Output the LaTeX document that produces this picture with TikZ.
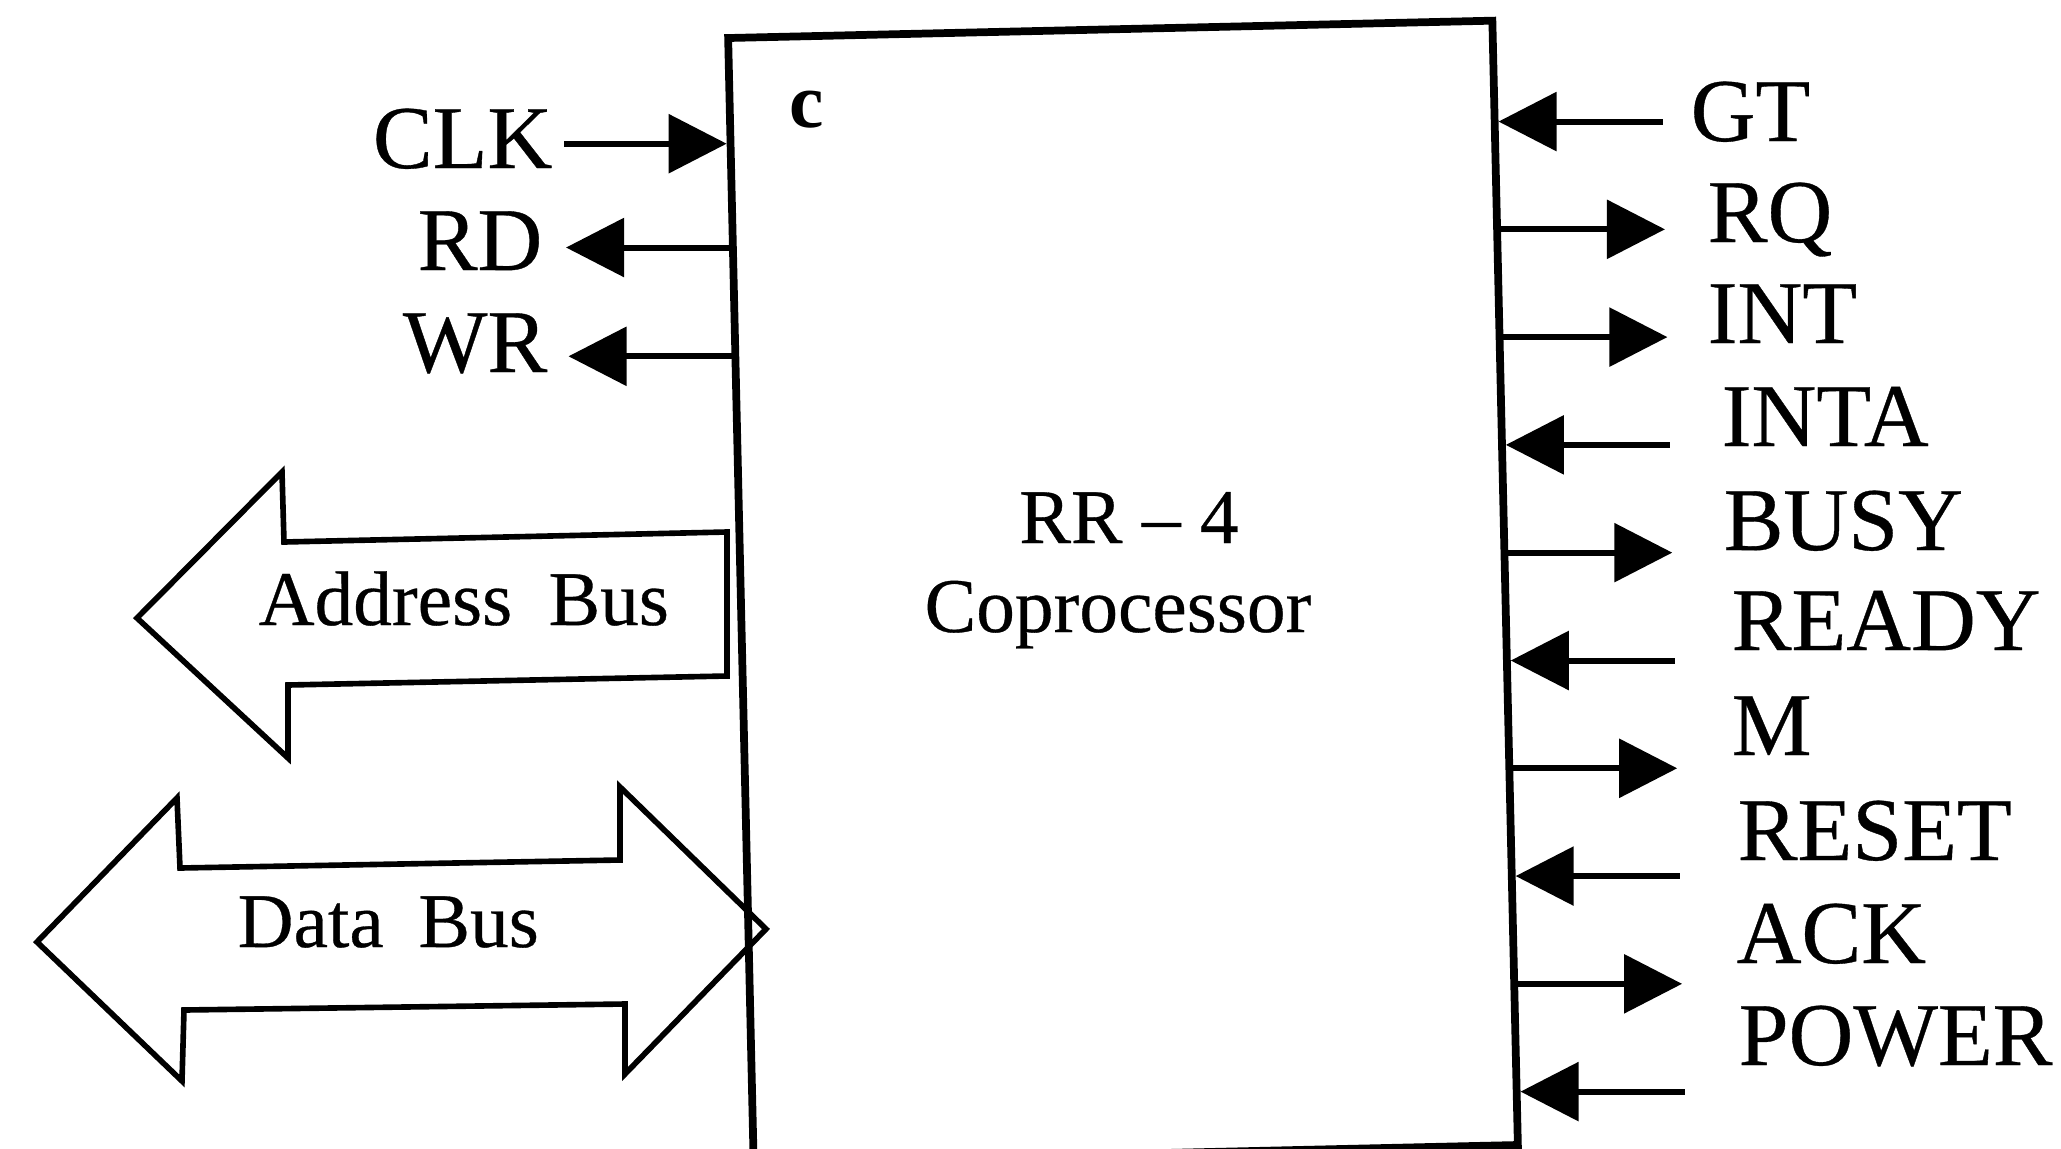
\documentclass[tikz,border=0pt]{standalone}
\usepackage{fontspec}
\setmainfont{Liberation Serif}[UprightFeatures={FakeBold=0.4}]
\usetikzlibrary{arrows.meta,calc}
\begin{document}
\begin{tikzpicture}[x=0.01cm,y=-0.01cm,
  sigout/.style={line width=1.7pt,-{Triangle[length=0.58cm,width=0.58cm]}},
  sigin/.style={line width=1.7pt,{Triangle[length=0.58cm,width=0.58cm]}-},
  lbl/.style={inner sep=0pt,font=\fontsize{25.5}{30}\selectfont},
  ctr/.style={inner sep=0pt,font=\fontsize{22}{26}\selectfont},
  busarrow/.style={line width=1.6pt,line join=miter},
]
\useasboundingbox (0,0) rectangle (2061,1148);
\clip (0,0) rectangle (2061,1148);

% main block
\node[draw,line width=2.2pt,rotate=1.3,minimum width=7.64cm,minimum height=11.24cm,inner sep=0pt] (box) at (1123,591.5) {};
\node[inner sep=0pt,anchor=base west,font=\fontsize{22}{26}\selectfont\bfseries] (cl) at (789,127) {c};
\node[ctr,anchor=base] (name) at (1129,543) {RR – 4};
\node[ctr,anchor=base] (proc) at (1118,632) {Coprocessor};

% left signals
\node[lbl,anchor=base east] (clk) at (553,168) {CLK};
\node[lbl,anchor=base east] (rd) at (543,270) {RD};
\node[lbl,anchor=base east] (wr) at (548,372) {WR};
\draw[sigin]  ($(box.north west)!0.0967!(box.south west)$) -- ++(-163,0);
\draw[sigout] ($(box.north west)!0.1884!(box.south west)$) -- ++(-163,0);
\draw[sigout] ($(box.north west)!0.2845!(box.south west)$) -- ++(-163,0);

% right signals
\node[lbl,anchor=base west] (gt) at (1690,141) {GT};
\node[lbl,anchor=base west] (rq) at (1707,242) {RQ};
\node[lbl,anchor=base west] (int) at (1707,343) {INT};
\node[lbl,anchor=base west] (inta) at (1721,446) {INTA};
\node[lbl,anchor=base west] (busy) at (1723,550) {BUSY};
\node[lbl,anchor=base west] (ready) at (1731,650) {READY};
\node[lbl,anchor=base west] (m) at (1731,755) {M};
\node[lbl,anchor=base west] (reset) at (1737,860) {RESET};
\node[lbl,anchor=base west] (ack) at (1736,963) {ACK};
\node[lbl,anchor=base west] (power) at (1738,1065) {POWER};

\draw[sigin]  ($(box.north east)!0.0926!(box.south east)$) -- ++(164,0);
\draw[sigout] ($(box.north east)!0.1878!(box.south east)$) -- ++(164,0);
\draw[sigout] ($(box.north east)!0.2830!(box.south east)$) -- ++(164,0);
\draw[sigin]  ($(box.north east)!0.3782!(box.south east)$) -- ++(164,0);
\draw[sigout] ($(box.north east)!0.4734!(box.south east)$) -- ++(164,0);
\draw[sigin]  ($(box.north east)!0.5687!(box.south east)$) -- ++(164,0);
\draw[sigout] ($(box.north east)!0.6639!(box.south east)$) -- ++(164,0);
\draw[sigin]  ($(box.north east)!0.7591!(box.south east)$) -- ++(164,0);
\draw[sigout] ($(box.north east)!0.8543!(box.south east)$) -- ++(164,0);
\draw[sigin]  ($(box.north east)!0.9495!(box.south east)$) -- ++(164,0);

% address bus
\draw[busarrow] (137,618) -- (282,472) -- (284,542) -- (727,532) -- (727,676)
  -- (288,685) -- (288,758) -- cycle;
\node[ctr,anchor=base west] (ab) at (258,625) {Address\hspace{0.47em}Bus};

% data bus
\draw[busarrow] (37,942) -- (177,798) -- (180,868) -- (620,860) -- (620,787)
  -- (766,929) -- (625,1074) -- (625,1004) -- (184,1010) -- (182,1081) -- cycle;
\node[ctr,anchor=base west] (db) at (237,947) {Data\hspace{0.45em}Bus};
\end{tikzpicture}
\end{document}
